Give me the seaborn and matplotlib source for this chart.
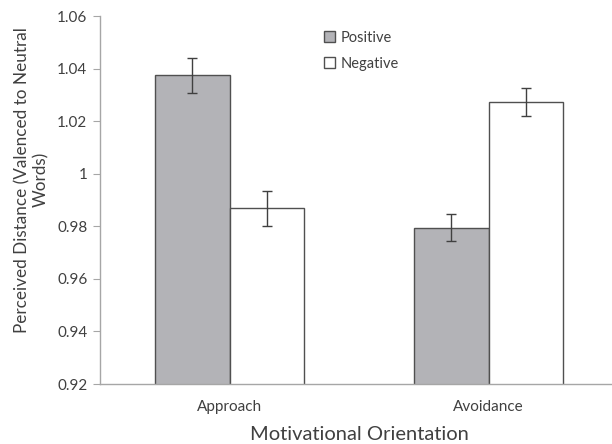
import matplotlib
matplotlib.use("Agg")
import matplotlib.pyplot as plt
import seaborn as sns
import pandas as pd
import numpy as np

categories = ["Approach", "Avoidance"]
series = ["Positive", "Negative"]
positive_vals = [1.0374, 0.9795]
negative_vals = [0.9868, 1.0274]
positive_err = [0.0067, 0.0050]
negative_err = [0.0066, 0.0053]
yticks = [0.92, 0.94, 0.96, 0.98, 1.00, 1.02, 1.04, 1.06]
ytick_labels = ["0.92", "0.94", "0.96", "0.98", "1", "1.02", "1.04", "1.06"]

sns.set_style("white")
plt.rcParams['font.family'] = ['Lato', 'DejaVu Sans']

df = pd.DataFrame({
    "orientation": categories * 2,
    "valence": [series[0]] * 2 + [series[1]] * 2,
    "value": positive_vals + negative_vals,
})

fig = plt.figure(figsize=(6.12, 4.44), dpi=100)
W, H = 612, 444
ax = fig.add_axes([100 / W, 1 - 384 / H, 518 / W, 368 / H])

sns.barplot(data=df, x="orientation", y="value", hue="valence",
            order=categories, hue_order=series,
            palette={"Positive": "#b3b3b7", "Negative": "#ffffff"},
            edgecolor="#505050", linewidth=1.0, width=0.572, ax=ax,
            errorbar=None, legend=True)

errs = {"Positive": positive_err, "Negative": negative_err}
for container, name in zip(ax.containers, series):
    for bar, e in zip(container, errs[name]):
        xc = bar.get_x() + bar.get_width() / 2
        ax.errorbar(xc, bar.get_height(), yerr=e, fmt="none",
                    ecolor="#404040", elinewidth=1.0, capsize=3.5, capthick=1.0)

ax.set_ylim(0.92, 1.06)
ax.set_xlim(-0.5, 1.5)
ax.set_yticks(yticks)
ax.set_yticklabels(ytick_labels)
ax.tick_params(axis="y", which="both", left=True, length=5, width=0.8,
               color="#a6a6a6", labelsize=11, labelcolor="#404040", pad=4)
ax.tick_params(axis="x", bottom=False, labelsize=11, labelcolor="#404040", pad=8)

for s in ["top", "right"]:
    ax.spines[s].set_visible(False)
for s in ["left", "bottom"]:
    ax.spines[s].set_color("#a6a6a6")
    ax.spines[s].set_linewidth(1.0)

ax.set_xlabel("Motivational Orientation", fontsize=14.5, color="#404040", labelpad=9)
ax.set_ylabel("Perceived Distance (Valenced to Neutral\nWords)", fontsize=12.3,
              color="#404040", labelpad=6, linespacing=1.15)
ax.yaxis.label.set_y(0.555)

leg = ax.legend(loc="upper left", bbox_to_anchor=(218 / 518, 1 - 9 / 368),
                frameon=False, fontsize=10.5, handlelength=0.75, handleheight=0.75,
                handletextpad=0.4, labelspacing=0.8, borderaxespad=0)
for t in leg.get_texts():
    t.set_color("#404040")

fig.savefig("out.png", dpi=100)
